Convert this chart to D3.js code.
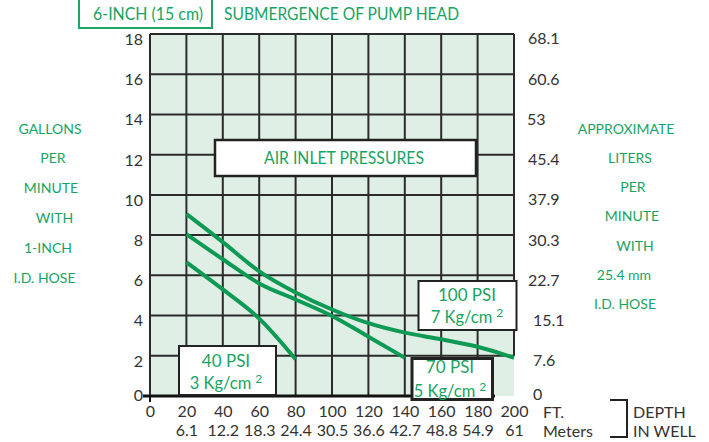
<!DOCTYPE html>
<html>
<head>
<meta charset="utf-8">
<script src="https://cdn.jsdelivr.net/npm/d3@7"></script>
<style>
  body { margin: 0; background: #fff; }
  text { font-family: Lato, "Open Sans", sans-serif; }
</style>
</head>
<body>
<svg id="chart" width="709" height="442"></svg>
<script>
// depth in well (ft) and flow (gpm)
var ftTicks = [0, 20, 40, 60, 80, 100, 120, 140, 160, 180, 200];
var meterLabels = ["", "6.1", "12.2", "18.3", "24.4", "30.5", "36.6", "42.7", "48.8", "54.9", "61"];
var gpmTicks = [0, 2, 4, 6, 8, 10, 12, 14, 16, 18];
var literLabels = ["0", "7.6", "15.1", "22.7", "30.3", "37.9", "45.4", "53", "60.6", "68.1"];

var psi100 = [[20, 9.05], [40, 7.65], [60, 6.2], [80, 5.15], [100, 4.3], [120, 3.62], [140, 3.15], [160, 2.82], [180, 2.45], [200, 1.9]];
var psi70 = [[20, 8.05], [40, 6.8], [60, 5.6], [80, 4.8], [100, 3.98], [120, 2.95], [140, 1.9]];
var psi40 = [[20, 6.65], [40, 5.3], [60, 3.85], [80, 1.83]];

var leftTitle = ["GALLONS", "PER", "MINUTE", "WITH", "1-INCH", "I.D. HOSE"];
var rightTitle = ["APPROXIMATE", "LITERS", "PER", "MINUTE", "WITH", "25.4 mm", "I.D. HOSE"];

var green = "#17a463";
var lineGreen = "#0e9a55";
var dark = "#2b2b2b";

var svg = d3.select("#chart");

var x = d3.scaleLinear().domain([0, 200]).range([150, 514]);
var y = d3.scaleLinear().domain([0, 18]).range([396, 34]);

// plot background
svg.append("rect")
  .attr("x", x(0)).attr("y", y(18))
  .attr("width", x(200) - x(0)).attr("height", y(0) - y(18))
  .attr("fill", "#e0efe5");

// grid
var grid = svg.append("g").attr("stroke", dark).attr("stroke-width", 2);
grid.selectAll(".v").data(ftTicks).join("line")
  .attr("x1", d => x(d)).attr("x2", d => x(d))
  .attr("y1", y(18)).attr("y2", d => d == 200 ? y(2) : y(0));
grid.selectAll(".h").data(gpmTicks.filter(d => d > 0)).join("line")
  .attr("x1", x(0)).attr("x2", x(200))
  .attr("y1", d => y(d)).attr("y2", d => y(d));

// bottom axis line + tick at 0
svg.append("line").attr("x1", 143).attr("x2", 495)
  .attr("y1", y(0)).attr("y2", y(0))
  .attr("stroke", "#111").attr("stroke-width", 3.2);
svg.append("line").attr("x1", x(0)).attr("x2", x(0))
  .attr("y1", y(0)).attr("y2", y(0) + 6)
  .attr("stroke", "#111").attr("stroke-width", 2);

// curves
var line = d3.line().x(d => x(d[0])).y(d => y(d[1])).curve(d3.curveMonotoneX);
svg.selectAll(".curve").data([psi100, psi70, psi40]).join("path")
  .attr("class", "curve")
  .attr("d", line)
  .attr("fill", "none")
  .attr("stroke", lineGreen)
  .attr("stroke-width", 4);

// left axis labels
var left = svg.append("g").attr("transform", "translate(" + (x(0) - 2) + ",0)")
  .call(d3.axisLeft(y).tickValues(gpmTicks).tickSize(0).tickPadding(5));
left.select(".domain").remove();
left.selectAll("text").attr("font-size", 16).attr("fill", "#333")
  .attr("dy", d => d == 0 ? "0.3em" : "0.65em")
  .style("font-family", "Lato, sans-serif");

// right axis labels (liters)
var right = svg.append("g").attr("transform", "translate(" + (x(200) + 11) + ",0)")
  .call(d3.axisRight(y).tickValues(gpmTicks).tickSize(0).tickPadding(3)
    .tickFormat((d, i) => literLabels[i]));
right.select(".domain").remove();
right.selectAll("text").attr("font-size", 16).attr("fill", "#333")
  .attr("dy", d => d == 0 ? "0.2em" : "0.62em")
  .attr("dx", d => d <= 4 ? 5 : (d == 14 ? -1 : 0))
  .style("font-family", "Lato, sans-serif");

// bottom axis: feet and meters
var bottom = svg.append("g").attr("transform", "translate(0," + y(0) + ")")
  .call(d3.axisBottom(x).tickValues(ftTicks).tickSize(0).tickPadding(10));
bottom.select(".domain").remove();
bottom.selectAll("text").attr("font-size", 16).attr("fill", "#333")
  .style("font-family", "Lato, sans-serif");

var bottomM = svg.append("g").attr("transform", "translate(0," + (y(0) + 19) + ")")
  .call(d3.axisBottom(x).tickValues(ftTicks).tickSize(0).tickPadding(10)
    .tickFormat((d, i) => meterLabels[i]));
bottomM.select(".domain").remove();
bottomM.selectAll("text").attr("font-size", 16).attr("fill", "#333")
  .style("font-family", "Lato, sans-serif");

svg.append("text").attr("x", 543).attr("y", 418).attr("font-size", 16).attr("fill", "#333").text("FT.");
svg.append("text").attr("x", 543).attr("y", 437).attr("font-size", 16).attr("fill", "#333").text("Meters");

// bracket "DEPTH IN WELL"
svg.append("path").attr("d", "M610,400 H627 V437 H610")
  .attr("fill", "none").attr("stroke", "#222").attr("stroke-width", 2);
svg.append("text").attr("x", 633).attr("y", 418).attr("font-size", 16).attr("fill", "#333").text("DEPTH");
svg.append("text").attr("x", 633).attr("y", 437).attr("font-size", 16).attr("fill", "#333").text("IN WELL");

// side titles
var leftX = [50, 53, 51, 54.5, 48, 44.5];
svg.selectAll(".lt").data(leftTitle).join("text")
  .attr("x", (d, i) => leftX[i]).attr("y", (d, i) => 133.5 + i * 29.8)
  .attr("text-anchor", "middle").attr("font-size", 14).attr("fill", green)
  .text(d => d);

var rightX = [626, 630, 633, 632, 635, 624, 625];
svg.selectAll(".rt").data(rightTitle).join("text")
  .attr("x", (d, i) => rightX[i]).attr("y", (d, i) => 133.5 + i * 29.3)
  .attr("text-anchor", "middle").attr("font-size", 14).attr("fill", green)
  .text(d => d);

// top header
svg.append("rect").attr("x", 79).attr("y", -3).attr("width", 133).attr("height", 31)
  .attr("fill", "#fff").attr("stroke", "#1ea566").attr("stroke-width", 2);
svg.append("text").attr("x", 93).attr("y", 20)
  .attr("font-size", 16.5).attr("fill", green)
  .attr("textLength", 110).attr("lengthAdjust", "spacingAndGlyphs")
  .text("6-INCH (15 cm)");
svg.append("text").attr("x", 224).attr("y", 20)
  .attr("font-size", 16.5).attr("fill", green)
  .attr("textLength", 235).attr("lengthAdjust", "spacingAndGlyphs")
  .text("SUBMERGENCE OF PUMP HEAD");

// label boxes
function box(x0, y0, w, h, sw) {
  svg.append("rect").attr("x", x0).attr("y", y0).attr("width", w).attr("height", h)
    .attr("fill", "#fff").attr("stroke", "#222").attr("stroke-width", sw);
}
function psiLabel(cx, y1, y2, top, kg) {
  svg.append("text").attr("x", cx).attr("y", y1).attr("text-anchor", "middle")
    .attr("font-size", 17).attr("fill", green).text(top);
  var t = svg.append("text").attr("x", cx).attr("y", y2).attr("text-anchor", "middle")
    .attr("font-size", 16.5).attr("fill", green).text(kg);
  t.append("tspan").attr("dx", 4).attr("dy", -6).attr("font-size", 12).text("2");
}

box(215, 140, 261, 36, 2.5);
svg.append("text").attr("x", 264).attr("y", 164)
  .attr("font-size", 16.5).attr("fill", green)
  .attr("textLength", 160).attr("lengthAdjust", "spacingAndGlyphs")
  .text("AIR INLET PRESSURES");

box(418.5, 281, 98, 49, 2);
psiLabel(467, 301, 323, "100 PSI", "7 Kg/cm");

box(179, 346, 97, 49, 2);
psiLabel(226, 367, 388.5, "40 PSI", "3 Kg/cm");

box(412, 358.5, 80.5, 41, 3);
psiLabel(450, 373, 397, "70 PSI", "5 Kg/cm");
</script>
</body>
</html>
